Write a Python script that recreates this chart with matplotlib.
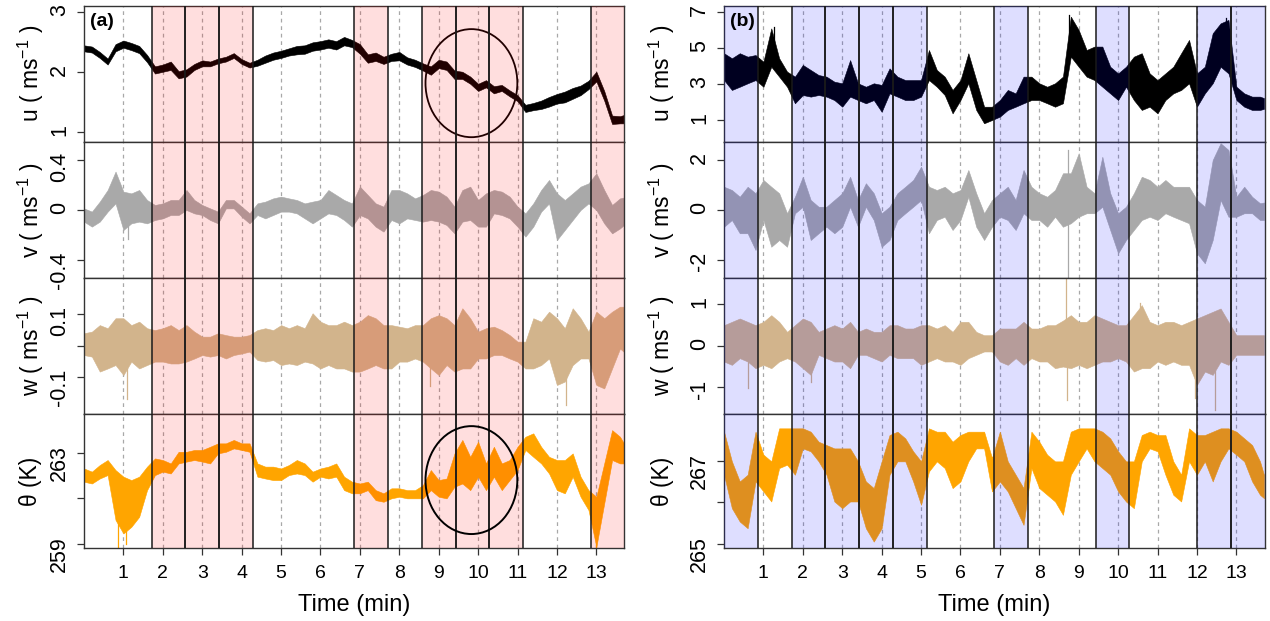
import numpy as np
import matplotlib
matplotlib.use("Agg")
import matplotlib.pyplot as plt
from matplotlib.patches import Ellipse

plt.rcParams['font.family'] = ['Liberation Sans', 'DejaVu Sans']
plt.rcParams['mathtext.default'] = 'regular'

# ---------------------------------------------------------------
# sample times (min) and envelope (low / high) of each signal
# ---------------------------------------------------------------
time = np.append(np.arange(0, 13.61, 0.2), 13.7)

# ---- case (a) ----
u_a_hi = [2.44, 2.42, 2.33, 2.22, 2.46, 2.52, 2.48, 2.43, 2.28, 2.09,
          2.12, 2.17, 2.01, 2.04, 2.13, 2.19, 2.17, 2.22, 2.25, 2.31,
          2.21, 2.15, 2.20, 2.27, 2.32, 2.35, 2.39, 2.43, 2.44, 2.49,
          2.51, 2.54, 2.51, 2.58, 2.53, 2.46, 2.29, 2.32, 2.25, 2.30,
          2.33, 2.24, 2.20, 2.14, 2.09, 2.20, 2.17, 2.02, 2.00, 1.92,
          1.80, 1.86, 1.76, 1.78, 1.69, 1.61, 1.45, 1.48, 1.52, 1.58,
          1.63, 1.67, 1.73, 1.77, 1.85, 2.00, 1.68, 1.27, 1.26, 1.28]
u_a_lo = [2.34, 2.32, 2.23, 2.12, 2.34, 2.40, 2.36, 2.31, 2.16, 1.97,
          2.00, 2.03, 1.89, 1.92, 2.03, 2.09, 2.09, 2.14, 2.17, 2.23,
          2.13, 2.07, 2.10, 2.15, 2.20, 2.23, 2.27, 2.29, 2.30, 2.35,
          2.37, 2.40, 2.37, 2.44, 2.41, 2.30, 2.15, 2.18, 2.13, 2.18,
          2.19, 2.12, 2.08, 2.02, 1.95, 2.06, 2.03, 1.88, 1.88, 1.80,
          1.68, 1.74, 1.64, 1.68, 1.59, 1.51, 1.33, 1.36, 1.38, 1.42,
          1.47, 1.49, 1.55, 1.61, 1.71, 1.84, 1.52, 1.13, 1.14, 1.14]

v_a_hi = [0.013, -0.013, 0.067, 0.16, 0.307, 0.147, 0.133, 0.16, 0.08, 0.04,
          0.053, 0.08, 0.08, 0.16, 0.08, 0.04, 0.013, -0.013, 0.08, 0.08,
          0.027, -0.027, 0.053, 0.067, 0.093, 0.107, 0.093, 0.08, 0.053, 0.067,
          0.08, 0.16, 0.12, 0.08, 0.053, 0.187, 0.12, 0.053, 0.027, 0.16,
          0.16, 0.133, 0.093, 0.12, 0.16, 0.147, 0.107, 0.027, 0.16, 0.187,
          0.08, 0.133, 0.16, 0.147, 0.107, 0.027, -0.027, 0.053, 0.16, 0.24,
          0.133, 0.08, 0.133, 0.187, 0.213, 0.293, 0.16, 0.04, 0.093, 0.10]
v_a_lo = [-0.093, -0.133, -0.093, -0.013, 0.053, -0.16, -0.107, -0.093, -0.107, -0.08,
          -0.067, -0.04, -0.04, 0.0, -0.027, -0.04, -0.08, -0.107, 0.013, 0.013,
          -0.053, -0.107, -0.04, -0.067, -0.04, -0.013, -0.013, -0.027, -0.067, -0.107,
          -0.067, -0.027, -0.04, -0.08, -0.133, -0.04, -0.067, -0.133, -0.173, -0.08,
          -0.107, -0.067, -0.08, -0.093, -0.08, -0.093, -0.12, -0.187, -0.093, -0.08,
          -0.133, -0.133, -0.027, -0.04, -0.067, -0.133, -0.213, -0.133, -0.013, 0.053,
          -0.24, -0.16, -0.08, 0.0, 0.053, 0.0, -0.107, -0.187, -0.147, -0.12]

w_a_hi = [0.040, 0.045, 0.066, 0.056, 0.088, 0.088, 0.066, 0.077, 0.056, 0.050,
          0.056, 0.066, 0.050, 0.066, 0.045, 0.029, 0.029, 0.040, 0.034, 0.029,
          0.029, 0.034, 0.050, 0.056, 0.050, 0.066, 0.056, 0.066, 0.056, 0.104,
          0.077, 0.066, 0.066, 0.077, 0.066, 0.077, 0.098, 0.088, 0.066, 0.066,
          0.061, 0.056, 0.066, 0.066, 0.088, 0.098, 0.088, 0.066, 0.120, 0.088,
          0.045, 0.056, 0.061, 0.050, 0.034, 0.013, 0.013, 0.088, 0.077, 0.109,
          0.088, 0.056, 0.120, 0.088, 0.045, 0.109, 0.088, 0.109, 0.125, 0.125]
w_a_lo = [-0.030, -0.035, -0.083, -0.073, -0.062, -0.094, -0.051, -0.073, -0.062, -0.051,
          -0.051, -0.057, -0.057, -0.051, -0.041, -0.030, -0.035, -0.030, -0.041, -0.030,
          -0.025, -0.019, -0.046, -0.051, -0.046, -0.062, -0.057, -0.062, -0.051, -0.057,
          -0.073, -0.062, -0.073, -0.073, -0.083, -0.083, -0.073, -0.062, -0.073, -0.073,
          -0.051, -0.051, -0.041, -0.051, -0.073, -0.094, -0.062, -0.083, -0.073, -0.073,
          -0.041, -0.041, -0.030, -0.030, -0.041, -0.051, -0.073, -0.073, -0.062, -0.041,
          -0.126, -0.115, -0.062, -0.041, -0.041, -0.126, -0.137, -0.073, -0.009, -0.020]

th_a_hi = [262.31, 262.17, 262.46, 262.68, 262.24, 261.95, 261.80, 261.95, 262.39, 262.75,
           262.68, 262.53, 263.04, 263.04, 263.12, 263.12, 263.26, 263.41, 263.41, 263.56,
           263.41, 263.41, 262.53, 262.39, 262.39, 262.31, 262.46, 262.68, 262.53, 262.17,
           262.31, 262.39, 262.53, 261.95, 261.73, 261.65, 261.73, 261.36, 261.22, 261.44,
           261.44, 261.36, 261.36, 261.58, 262.24, 261.80, 261.87, 262.97, 263.56, 262.82,
           263.48, 262.53, 263.26, 262.53, 262.68, 263.26, 263.70, 263.85, 263.26, 262.82,
           262.68, 262.68, 262.97, 261.95, 261.36, 261.07, 262.53, 263.99, 263.70, 263.41]
th_a_lo = [261.73, 261.65, 261.87, 262.02, 260.05, 259.46, 259.75, 260.19, 261.36, 262.02,
           262.17, 262.09, 262.53, 262.61, 262.68, 262.61, 262.53, 262.97, 263.04, 263.19,
           263.12, 263.04, 261.95, 261.87, 261.80, 261.80, 262.02, 262.09, 262.02, 261.73,
           261.95, 261.87, 261.95, 261.36, 261.22, 261.22, 261.36, 260.92, 260.85, 261.00,
           261.07, 261.00, 261.00, 261.00, 261.36, 261.07, 261.00, 261.51, 261.65, 261.36,
           261.95, 261.36, 261.95, 261.36, 261.80, 262.24, 263.12, 262.82, 262.53, 262.09,
           261.36, 261.22, 261.95, 261.07, 260.49, 258.88, 260.78, 262.68, 262.53, 262.53]

# ---- case (b) ----
u_b_hi = [4.69, 4.41, 4.69, 4.50, 4.59, 4.22, 6.07, 4.41, 3.67, 3.39,
          4.04, 3.76, 3.48, 3.39, 3.11, 3.02, 4.31, 3.02, 2.83, 3.02,
          2.93, 3.85, 3.39, 3.20, 3.20, 3.20, 4.87, 3.76, 3.39, 2.65,
          3.20, 4.69, 3.20, 1.72, 1.72, 2.09, 2.65, 2.46, 3.39, 3.39,
          3.02, 2.83, 3.02, 3.39, 6.72, 5.98, 4.87, 5.06, 5.06, 3.94,
          3.57, 3.94, 4.50, 4.69, 3.57, 3.20, 3.57, 3.94, 4.69, 5.43,
          3.57, 3.94, 5.80, 6.35, 6.54, 2.83, 2.46, 2.28, 2.28, 2.20]
u_b_lo = [3.20, 2.65, 2.83, 3.02, 3.20, 2.83, 3.94, 3.39, 2.83, 1.91,
          2.37, 2.28, 2.37, 2.28, 2.09, 1.72, 2.28, 2.09, 1.91, 2.09,
          1.44, 2.46, 2.28, 2.09, 2.09, 2.28, 3.20, 2.83, 2.37, 1.35,
          2.09, 3.02, 1.54, 0.80, 0.98, 1.17, 1.54, 1.72, 1.91, 2.09,
          2.09, 1.91, 1.72, 1.91, 4.50, 3.94, 3.39, 3.20, 2.83, 2.46,
          2.09, 2.83, 2.09, 1.54, 1.72, 1.35, 2.09, 2.46, 2.65, 3.02,
          1.72, 2.46, 3.02, 3.94, 3.57, 2.09, 1.72, 1.54, 1.54, 1.60]

v_b_hi = [0.93, 0.80, 0.53, 0.93, 0.67, 1.20, 0.93, 0.67, -0.13, 0.53,
          1.33, 0.40, 0.13, 0.13, 0.40, 0.67, 1.33, 0.40, 1.07, 0.67,
          -0.13, 0.13, 0.67, 0.93, 1.20, 1.73, 0.93, 0.80, 0.93, 0.67,
          0.80, 1.60, 0.67, -0.13, 0.40, 0.67, 0.93, 0.40, 1.60, 0.93,
          0.67, 0.53, 0.80, 1.47, 1.47, 2.27, 0.93, 0.67, 2.13, 0.67,
          -0.13, 0.13, 0.67, 1.33, 1.20, 0.93, 1.20, 0.93, 0.93, 0.93,
          0.40, 0.13, 2.00, 2.67, 2.40, 0.53, 0.93, 0.53, 0.27, 0.30]
v_b_lo = [-0.67, -0.40, -0.93, -0.93, -1.60, -0.40, -1.47, -1.20, -1.47, -0.13,
          0.13, -1.20, -0.93, -0.67, -0.93, -0.67, 0.13, -0.67, 0.13, -0.40,
          -1.47, -1.20, -0.40, -0.13, 0.13, 0.40, -0.93, -0.40, -0.27, -0.80,
          -0.40, 0.53, -0.67, -1.20, -0.67, -0.27, -0.40, -0.80, -0.13, -0.40,
          -0.40, -0.67, -0.27, -0.67, -0.53, -0.27, -0.13, -0.13, 0.13, -0.80,
          -1.73, -1.20, -0.80, -0.40, -0.27, -0.40, -0.13, -0.27, -0.40, -0.53,
          -1.73, -2.13, -1.20, 0.40, -0.27, -0.27, -0.13, -0.13, -0.40, -0.40]

w_b_hi = [0.49, 0.57, 0.65, 0.57, 0.49, 0.57, 0.73, 0.57, 0.33, 0.49,
          0.65, 0.57, 0.33, 0.41, 0.49, 0.41, 0.57, 0.33, 0.41, 0.33,
          0.33, 0.49, 0.49, 0.41, 0.41, 0.49, 0.49, 0.41, 0.49, 0.33,
          0.57, 0.57, 0.33, 0.25, 0.25, 0.41, 0.41, 0.41, 0.57, 0.41,
          0.41, 0.49, 0.49, 0.60, 0.73, 0.57, 0.57, 0.73, 0.65, 0.57,
          0.49, 0.49, 0.73, 0.97, 0.57, 0.49, 0.57, 0.57, 0.49, 0.57,
          0.65, 0.73, 0.81, 0.89, 0.57, 0.25, 0.25, 0.25, 0.25, 0.25]
w_b_lo = [-0.38, -0.46, -0.30, -0.38, -0.54, -0.46, -0.54, -0.38, -0.30, -0.38,
          -0.54, -0.70, -0.22, -0.30, -0.38, -0.38, -0.54, -0.22, -0.22, -0.30,
          -0.38, -0.22, -0.30, -0.30, -0.30, -0.46, -0.38, -0.30, -0.38, -0.38,
          -0.46, -0.30, -0.22, -0.14, -0.14, -0.38, -0.46, -0.30, -0.46, -0.30,
          -0.38, -0.38, -0.54, -0.50, -0.54, -0.46, -0.54, -0.46, -0.38, -0.38,
          -0.30, -0.38, -0.62, -0.54, -0.54, -0.38, -0.46, -0.38, -0.46, -0.46,
          -0.94, -0.62, -0.70, -0.38, -0.46, -0.22, -0.22, -0.22, -0.22, -0.22]

th_b_hi = [267.69, 266.98, 266.50, 266.66, 267.69, 267.14, 266.98, 267.77, 267.77, 267.77,
           267.77, 267.69, 267.45, 267.37, 267.29, 267.29, 267.29, 266.98, 266.50, 266.34,
           266.98, 267.61, 267.69, 267.53, 267.22, 266.98, 267.77, 267.69, 267.69, 267.45,
           267.61, 267.69, 267.69, 267.69, 267.06, 267.69, 266.98, 266.66, 266.34, 267.69,
           267.45, 267.14, 266.98, 266.98, 267.69, 267.77, 267.77, 267.77, 267.69, 267.53,
           267.22, 266.98, 266.98, 267.61, 267.69, 267.61, 267.61, 266.98, 266.66, 267.77,
           267.61, 267.61, 267.69, 267.77, 267.77, 267.69, 267.53, 267.37, 266.98, 266.66]
th_b_lo = [266.66, 265.86, 265.54, 265.38, 266.50, 266.26, 266.02, 266.82, 266.90, 266.66,
           267.29, 267.22, 266.98, 266.66, 266.02, 265.86, 266.02, 266.02, 265.38, 265.06,
           265.38, 266.66, 266.98, 266.98, 266.50, 265.94, 266.74, 266.98, 266.82, 266.34,
           266.50, 266.98, 267.29, 267.29, 266.26, 266.50, 266.26, 265.86, 265.46, 266.82,
           266.34, 266.18, 266.02, 265.70, 266.66, 266.98, 267.29, 266.98, 266.82, 266.66,
           266.26, 266.02, 265.86, 266.98, 267.29, 267.22, 266.66, 266.18, 266.02, 266.98,
           266.66, 266.98, 266.50, 266.98, 267.29, 267.14, 266.98, 266.50, 266.18, 266.10]

# isolated spikes: (time, base, tip)
v_a_spikes = [(1.11, -0.10, -0.23)]
w_a_spikes = [(1.10, -0.03, -0.17), (8.79, -0.05, -0.13), (12.24, -0.06, -0.19)]
th_a_spikes = [(0.86, 260.5, 258.85), (1.06, 260.0, 259.0), (13.0, 260.0, 258.85)]
u_b_spikes = [(1.26, 5.0, 6.17), (8.75, 5.5, 6.81), (12.75, 5.5, 6.63)]
v_b_spikes = [(8.72, 1.0, 2.40), (8.72, -0.5, -2.67)]
w_b_spikes = [(0.62, -0.3, -1.02), (2.20, -0.5, -0.86), (8.69, 0.5, 1.62),
              (8.70, -0.5, -1.30), (10.56, 0.6, 1.01), (11.96, -0.5, -1.26),
              (12.46, -0.6, -1.54)]

# 51.4-s windows, those highlighted in each case
n_win = 16
win_len = 6 / 7
shaded_a = [2, 3, 4, 8, 10, 11, 12, 15]
shaded_b = [0, 2, 3, 4, 5, 8, 11, 14, 15]

col_u, col_v, col_w, col_th = 'black', '#a9a9a9', '#d2b48c', '#ffa500'
ms = 'ms$^{-1}$'

panels = [
    dict(left=84, tag='(a)', shaded=shaded_a, shade='red', rows=[
        (u_a_lo, u_a_hi, col_u, (0.83, 3.1), [1, 2, 3], ['1', '2', '3'], 'u ( ' + ms + ' )', []),
        (v_a_lo, v_a_hi, col_v, (-0.544, 0.544), [-0.4, 0, 0.4], ['-0.4', '0', '0.4'], 'v ( ' + ms + ' )', v_a_spikes),
        (w_a_lo, w_a_hi, col_w, (-0.218, 0.217), [-0.1, 0, 0.1], ['-0.1', '', '0.1'], 'w ( ' + ms + ' )', w_a_spikes),
        (th_a_lo, th_a_hi, col_th, (258.81, 264.71), [259, 261, 263], ['259', '', '263'], 'θ (K)', th_a_spikes),
    ]),
    dict(left=724, tag='(b)', shaded=shaded_b, shade='blue', rows=[
        (u_b_lo, u_b_hi, col_u, (-0.24, 7.33), [1, 3, 5, 7], ['1', '3', '5', '7'], 'u ( ' + ms + ' )', u_b_spikes),
        (v_b_lo, v_b_hi, col_v, (-2.72, 2.72), [-2, 0, 2], ['-2', '0', '2'], 'v ( ' + ms + ' )', v_b_spikes),
        (w_b_lo, w_b_hi, col_w, (-1.63, 1.62), [-1, 0, 1], ['-1', '0', '1'], 'w ( ' + ms + ' )', w_b_spikes),
        (th_b_lo, th_b_hi, col_th, (264.9, 268.12), [265, 266, 267], ['265', '', '267'], 'θ (K)', []),
    ]),
]

W, H = 1270, 621
row_px = [5.7, 142, 278, 413.7, 548.3]
ylab_x = {84: 31, 724: 662}

fig = plt.figure(figsize=(W / 100, H / 100), dpi=100)
xmax = n_win * win_len

for p in panels:
    for i, (lo, hi, col, ylim, yt, ytl, ylab, spikes) in enumerate(p['rows']):
        ax = fig.add_axes([p['left'] / W, 1 - row_px[i + 1] / H,
                           540.5 / W, (row_px[i + 1] - row_px[i]) / H])
        for k in range(1, 14):
            ax.axvline(k, color='#a8a8a8', lw=0.9, ls=(0, (3, 3)), zorder=1)
        ax.fill_between(time, lo, hi, color=col, lw=0.4, zorder=2)
        for ts, base, tip in spikes:
            ax.plot([ts, ts], [base, tip], color=col, lw=0.9, zorder=2)

        if p['tag'] == '(a)' and i == 0:
            ax.add_patch(Ellipse((9.83, 1.81), 2.33, 1.8, fill=False,
                                 ec='black', lw=1.3, zorder=2.5))

        for s in p['shaded']:
            ax.axvspan(s * win_len, (s + 1) * win_len, color=p['shade'],
                       alpha=0.13, lw=0, zorder=3)
            for edge in (s * win_len, (s + 1) * win_len):
                if 0.01 < edge < xmax - 0.01:
                    ax.axvline(edge, color='#1a1a1a', lw=1.1, zorder=4)

        if p['tag'] == '(a)' and i == 3:
            ax.add_patch(Ellipse((9.83, 261.8), 2.33, 4.73, fill=False,
                                 ec='black', lw=1.4, zorder=5))

        ax.set_xlim(0, xmax)
        ax.set_ylim(*ylim)
        ax.set_yticks(yt)
        ax.set_yticklabels(ytl)
        ax.tick_params(axis='y', direction='out', length=5, width=0.9,
                       labelsize=15.5, pad=5, labelrotation=90, color='#333333')
        ax.set_xticks(range(1, 14))
        if i == 3:
            ax.tick_params(axis='x', direction='out', length=5, width=0.9,
                           labelsize=14, pad=7, color='#333333')
        else:
            ax.tick_params(axis='x', length=0, labelbottom=False)
        for sp in ax.spines.values():
            sp.set_color('#333333')
            sp.set_linewidth(1.0)

        yc = 1 - (row_px[i] + row_px[i + 1]) / 2 / H
        fig.text(ylab_x[p['left']] / W, yc, ylab, rotation=90,
                 ha='center', va='center', fontsize=16.5)
        if i == 0:
            ax.text(0.012, 0.95, p['tag'], transform=ax.transAxes,
                    fontsize=14, fontweight='bold', ha='left', va='top', zorder=6)

    fig.text((p['left'] + 270) / W, 1 - 605 / H, 'Time (min)',
             ha='center', va='center', fontsize=17)

fig.savefig('out.png', dpi=100)
